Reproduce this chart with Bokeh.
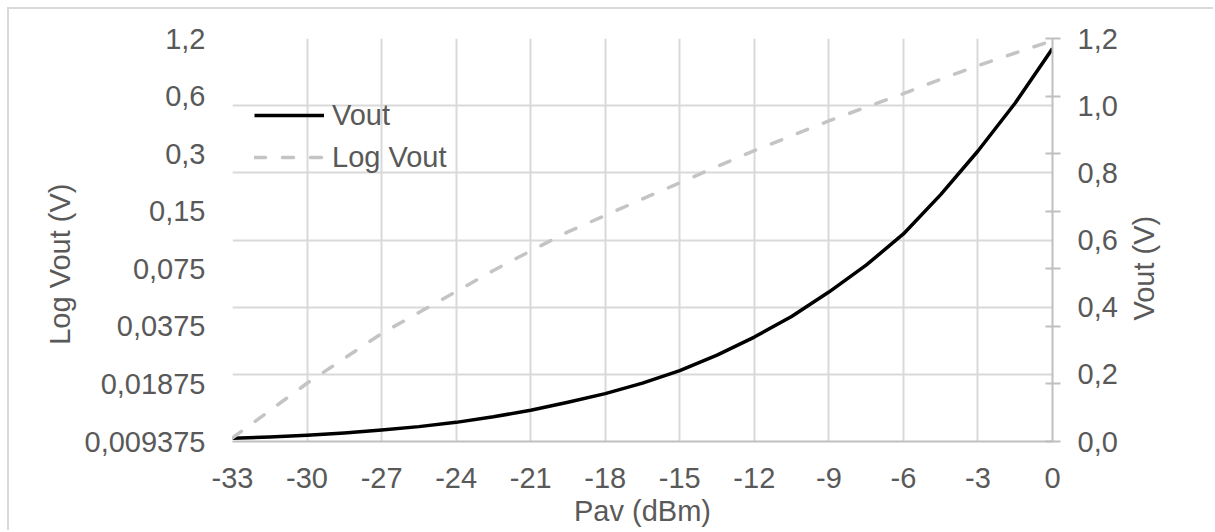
import math
from bokeh.plotting import figure
from bokeh.models import (Range1d, LogScale, LogAxis, LinearAxis, FixedTicker,
                          CustomJSTickFormatter, Legend, LegendItem, ColumnDataSource)
from bokeh.embed import file_html
from bokeh.resources import INLINE

# ---- data ----
pav = [-33, -31.5, -30, -28.5, -27, -25.5, -24, -22.5, -21, -19.5, -18, -16.5,
       -15, -13.5, -12, -10.5, -9, -7.5, -6, -4.5, -3, -1.5, 0]
vout = [0.0098, 0.0136, 0.0189, 0.0255, 0.0344, 0.0443, 0.057, 0.0735, 0.093,
        0.117, 0.1425, 0.174, 0.211, 0.257, 0.311, 0.372, 0.445, 0.525, 0.618,
        0.735, 0.865, 1.008, 1.17]
x_ticks = [-33, -30, -27, -24, -21, -18, -15, -12, -9, -6, -3, 0]
left_ticks = [0.009375, 0.01875, 0.0375, 0.075, 0.15, 0.3, 0.6, 1.2]
left_labels = ["0,009375", "0,01875", "0,0375", "0,075", "0,15", "0,3", "0,6", "1,2"]
right_ticks = [0.0, 0.2, 0.4, 0.6, 0.8, 1.0, 1.2]

FONT = "Liberation Sans"
TXT = "#595959"
FS = "29px"
GRID = "#d9d9d9"
AX = "#bfbfbf"

p = figure(width=1206, height=523, x_range=Range1d(-33, 0), y_range=Range1d(0, 1.2),
           y_axis_location="right", output_backend="svg", toolbar_location=None,
           min_border_left=223, min_border_right=163, min_border_top=29, min_border_bottom=91)
p.styles = {"margin-left": "7px", "margin-top": "7px",
            "border-left": "2px solid #d9d9d9", "border-top": "2px solid #d9d9d9"}
p.outline_line_color = None
p.background_fill_color = "white"
p.border_fill_color = "white"

p.extra_y_ranges = {"log": Range1d(left_ticks[0], left_ticks[-1])}
p.extra_y_scales = {"log": LogScale()}

src = ColumnDataSource(dict(pav=pav, vout=vout))
r1 = p.line("pav", "vout", source=src, line_color="black", line_width=3.5,
            line_join="round")
r2 = p.line("pav", "vout", source=src, y_range_name="log", line_color="#c4c4c4",
            line_width=3.5, line_dash="11 17", line_cap="round")

def style_axis(ax):
    ax.major_label_text_font = FONT
    ax.major_label_text_font_size = FS
    ax.major_label_text_color = TXT
    ax.axis_label_text_font = FONT
    ax.axis_label_text_font_size = FS
    ax.axis_label_text_color = TXT
    ax.axis_label_text_font_style = "normal"
    ax.major_tick_line_color = None
    ax.major_tick_out = 0
    ax.major_tick_in = 0

# bottom axis
xa = p.xaxis[0]
xa.ticker = FixedTicker(ticks=x_ticks)
xa.formatter = CustomJSTickFormatter(code="return tick.toString();")
style_axis(xa)
xa.minor_tick_line_color = None
xa.axis_line_color = AX
xa.axis_line_width = 2
xa.axis_label = "Pav (dBm)"
xa.major_label_standoff = 26
xa.axis_label_standoff = 4

# right (linear) axis
n = len(left_ticks) - 1
ra = p.yaxis[0]
ra.ticker = FixedTicker(ticks=right_ticks, minor_ticks=[1.2 * i / n for i in range(n + 1)])
ra.formatter = CustomJSTickFormatter(code="return tick.toFixed(1).replace('.', ',');")
style_axis(ra)
ra.axis_line_color = AX
ra.axis_line_width = 2
ra.minor_tick_line_color = AX
ra.minor_tick_line_width = 2
ra.minor_tick_in = 7
ra.minor_tick_out = 8
ra.major_label_standoff = 17

# left (log) axis
la = LogAxis(y_range_name="log", ticker=FixedTicker(ticks=left_ticks),
             formatter=CustomJSTickFormatter(args=dict(vals=left_ticks, labels=left_labels),
                code="""let best = 0; let d = 1e9;
for (let i = 0; i < vals.length; i++) { const e = Math.abs(Math.log(vals[i]) - Math.log(tick)); if (e < d) { d = e; best = i; } }
return labels[best];"""))
style_axis(la)
la.axis_line_color = None
la.minor_tick_line_color = None
la.major_label_standoff = 27
p.add_layout(la, "left")

# title-holding axes: the title is the single tick label, placed a little below centre
def title_axis(text, at, standoff, orientation):
    ax = LinearAxis(ticker=FixedTicker(ticks=[at]),
                    formatter=CustomJSTickFormatter(args=dict(t=text), code="return t;"))
    style_axis(ax)
    ax.axis_line_color = None
    ax.minor_tick_line_color = None
    ax.major_label_standoff = standoff
    ax.major_label_orientation = orientation
    return ax

lt = title_axis("Log Vout (V)", 0.528, 5, "vertical")
p.add_layout(lt, "left")
rt = title_axis("Vout (V)", 0.3603, 24, math.pi / 2)
p.add_layout(rt, "right")

p.xgrid.grid_line_color = GRID
p.xgrid.grid_line_width = 2
p.ygrid.grid_line_color = GRID
p.ygrid.grid_line_width = 2

legend = Legend(items=[LegendItem(label="Vout", renderers=[r1]),
                       LegendItem(label="Log Vout", renderers=[r2])],
                location=(22, 264), glyph_width=70, glyph_height=40, label_height=40,
                spacing=2, padding=0, margin=0, label_standoff=8,
                background_fill_alpha=0, border_line_color=None,
                label_text_font=FONT, label_text_font_size=FS, label_text_color=TXT)
p.add_layout(legend)

open("out.html", "w").write(file_html(p, INLINE))
